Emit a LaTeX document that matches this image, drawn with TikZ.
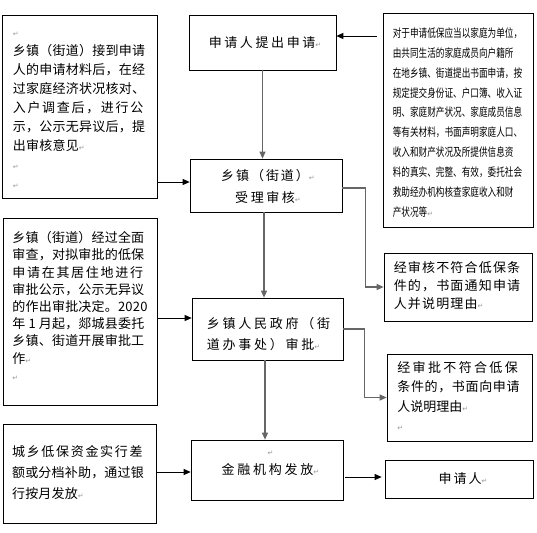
\documentclass[tikz,border=0pt]{standalone}
\usepackage{fontspec}
\setmainfont{Noto Sans CJK SC}
\newfontfamily\cjk{Noto Sans CJK SC}
\newfontfamily\cjknarrow[FakeStretch=0.75]{Noto Sans CJK SC}
\newfontfamily\dvs{DejaVu Sans}
\usetikzlibrary{arrows.meta,calc}
\newcommand{\pmk}{{\dvs\fontsize{7}{7}\selectfont\textcolor{black!40}{↵}}}
\newcommand{\ls}[2]{{\addfontfeature{LetterSpace=#1}#2}}
\begin{document}
\begin{tikzpicture}[x=1pt,y=-1pt,
  box/.style={draw=black,line width=0.7pt,inner sep=0pt},
  txt/.style={inner sep=0pt},
  conn/.style={draw=black,line width=0.8pt,-{Triangle[length=7pt,width=6pt]}},
  gconn/.style={draw=black!60,line width=1.1pt,-{Triangle[length=7pt,width=6pt]}}]
\useasboundingbox[fill=white] (0,0) rectangle (537,532);
% boxes
\node[box,minimum width=155pt,minimum height=183pt] (L1) at (79.5,106.5) {};
\node[box,minimum width=154pt,minimum height=187pt] (L2) at (80,311.5) {};
\node[box,minimum width=153pt,minimum height=99pt] (L3) at (79.5,473.5) {};
\node[box,minimum width=147pt,minimum height=55pt] (C1) at (262.5,42.5) {};
\node[box,minimum width=152pt,minimum height=53pt] (C2) at (266,185.5) {};
\node[box,minimum width=151pt,minimum height=62pt] (C3) at (267.5,329) {};
\node[box,minimum width=152pt,minimum height=60pt] (C4) at (267,470) {};
\node[box,minimum width=150pt,minimum height=214pt] (R1) at (458,120) {};
\node[box,minimum width=148pt,minimum height=68pt] (R2) at (458,287) {};
\node[box,minimum width=145pt,minimum height=87pt] (R3) at (459.5,397.5) {};
\node[box,minimum width=148pt,minimum height=38pt] (R4) at (459,479) {};
% texts
\node[txt,align=left,font=\fontsize{13}{19}\selectfont\addfontfeature{LetterSpace=2}] (L1t) at (79,110.5) {\pmk\\
乡镇（街道）接到申请\\
人的申请材料后，在经\\
过家庭经济状况核对、\\
\ls{13}{入户调查后，进行公}\\
示，公示无异议后，提\\
出审核意见\pmk\\
\pmk\\
\pmk};
\node[txt,align=left,font=\fontsize{13}{17.2}\selectfont\addfontfeature{LetterSpace=1.5}] (L2t) at (80,306) {乡镇（街道）经过全面\\
审查，对拟审批的低保\\
\ls{13}{申请在其居住地进行}\\
审批公示，公示无异议\\
的作出审批决定。2020\\
年 1 月起，郯城县委托\\
乡镇、街道开展审批工\\
作\pmk\\
\pmk};
\node[txt,align=left,font=\fontsize{13}{21}\selectfont\addfontfeature{LetterSpace=1.5}] (L3t) at (78,473) {\ls{13}{城乡低保资金实行差}\\
额或分档补助，通过银\\
行按月发放\pmk};
\node[txt,font=\fontsize{13}{19}\selectfont] (C1t) at (265,42.5) {\ls{20}{申请人提出申请}\pmk};
\node[txt,align=center,font=\fontsize{13}{22}\selectfont] (C2t) at (268,186) {\ls{15}{乡镇（街道）}\pmk\\ \ls{20}{受理审核}\pmk};
\node[txt,align=left,font=\fontsize{13}{21}\selectfont\addfontfeature{LetterSpace=21}] (C3t) at (268.5,334.5) {乡镇人民政府（街\\ 道办事处）审批\pmk};
\node[txt,align=center,font=\fontsize{13}{19}\selectfont] (C4t) at (270.5,463.5) {\pmk\\ \ls{21}{金融机构发放}\pmk};
\node[txt,font=\fontsize{13}{19}\selectfont] (R4t) at (463,479) {\ls{15}{申请人}\pmk};
\node[txt,align=left,font=\cjknarrow\fontsize{11.5}{19.9}\selectfont] (R1t) at (457.5,122.5) {对于申请低保应当以家庭为单位，\\
由共同生活的家庭成员向户籍所\\
在地乡镇、街道提出书面申请，按\\
规定提交身份证、户口簿、收入证\\
明、家庭财产状况、家庭成员信息\\
等有关材料，书面声明家庭人口、\\
收入和财产状况及所提供信息资\\
料的真实、完整、有效，委托社会\\
救助经办机构核查家庭收入和财\\
产状况等\pmk};
\node[txt,align=left,font=\fontsize{13}{18}\selectfont\addfontfeature{LetterSpace=9}] (R2t) at (457,286) {经审核不符合低保条\\
件的，书面通知申请\\
人并说明理由\pmk};
\node[txt,align=left,font=\fontsize{13}{19.3}\selectfont] (R3t) at (458.5,396) {\ls{18}{经审批不符合低保}\\
\ls{5}{条件的，书面向申请}\\
人说明理由\pmk\\
\pmk};
% connector levels
\coordinate (yA) at (0,36);
\coordinate (yB) at (0,182);
\coordinate (yC) at (0,318);
\coordinate (yD) at (0,472);
\coordinate (yE) at (0,477);
% connectors
\draw[gconn] (C1.south) -- (C1.south |- C2.north);
\draw[gconn] ([xshift=-2pt]C2.south) -- ([xshift=-2pt]C2.south |- C3.north);
\draw[gconn] ([xshift=-2.5pt]C3.south) -- ([xshift=-2.5pt]C3.south |- C4.north);
\draw[conn,shorten <=6pt] (R1.west |- yA) -- (C1.east |- yA);
\draw[conn] (L1.east |- yB) -- (C2.west |- yB);
\draw[gconn] ([yshift=-2.5pt]C2.east) -- ++(23,0) |- (R2.west);
\draw[conn] (L2.east |- yC) -- (C3.west |- yC);
\draw[gconn] (C3.east) -- ++(21,0) |- (R3.west);
\draw[conn] (L3.east |- yD) -- (C4.west |- yD);
\draw[conn,shorten <=2pt,shorten >=3pt] (C4.east |- yE) -- (R4.west |- yE);
\end{tikzpicture}
\end{document}
